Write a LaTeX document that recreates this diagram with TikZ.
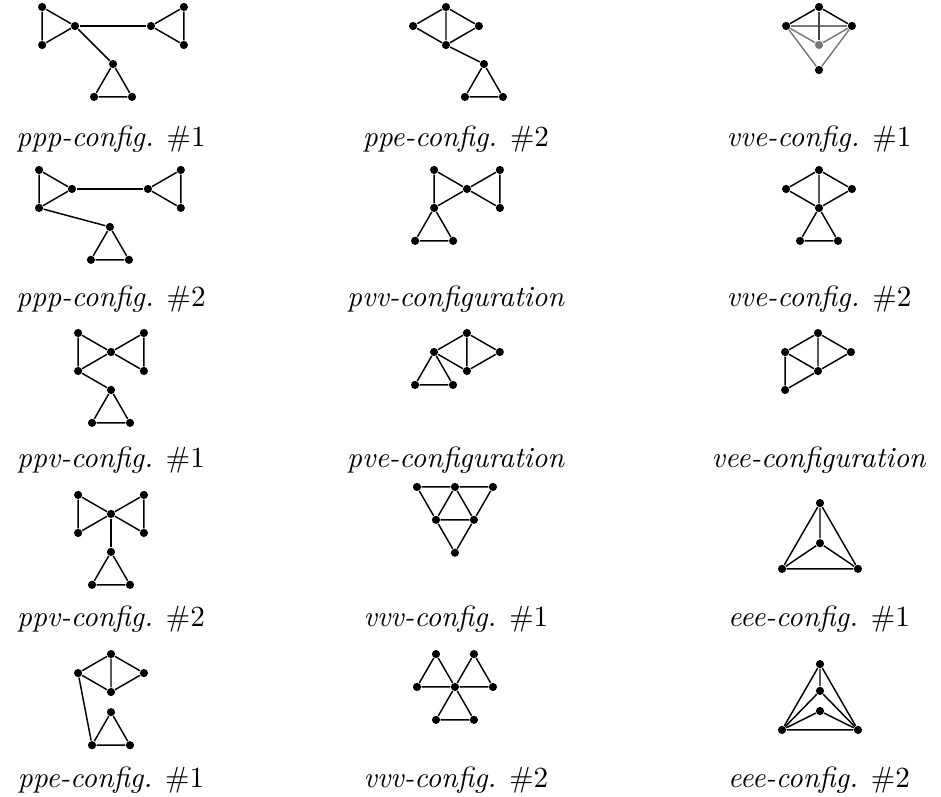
\documentclass[tikz,border=0pt]{standalone}
\usepackage{tikz}
\usepackage{xcolor}
\definecolor{backGray}{RGB}{120, 120, 120}
\definecolor{midGray}{RGB}{70, 70, 70}

\tikzset{
  vtx/.style={circle, fill=black, inner sep=0pt, minimum size=2.8pt},
  vtxBack/.style={vtx, fill=backGray},
  edge/.style={line width=0.5pt},
  edgeBack/.style={edge, draw=backGray},
  caption/.style={anchor=base, font=\normalsize}
}

\begin{document}
\begin{tikzpicture}

  % page frame: 941 x 797 px at 83.1 px per cm
  \useasboundingbox (0,0) rectangle (11.324,-9.591);

  % triangle side of every configuration
  \def\side{0.457}

  % ---------------- column 1 ----------------

  % ppp-config. #1
  \begin{scope}[shift={(0.903,-0.313)}, scale=\side]
    \node[vtx] (pA) at (-0.866, 0.5) {};
    \node[vtx] (pB) at (-0.866,-0.5) {};
    \node[vtx] (pC) at (0,0) {};
    \node[vtx] (pD) at (2,0) {};
    \node[vtx] (pE) at (2.866, 0.5) {};
    \node[vtx] (pF) at (2.866,-0.5) {};
    \node[vtx] (pG) at (1,-1) {};
    \node[vtx] (pH) at (0.5,-1.866) {};
    \node[vtx] (pI) at (1.5,-1.866) {};
    \draw[edge] (pA) -- (pB) -- (pC) -- (pA);
    \draw[edge] (pD) -- (pE) -- (pF) -- (pD);
    \draw[edge] (pG) -- (pH) -- (pI) -- (pG);
    \draw[edge] (pC) -- (pD);
    \draw[edge] (pC) -- (pG);
  \end{scope}
  \node[caption] (capPpp1) at (1.336,-1.769) {\textit{ppp-config.} \#1};

  % ppp-config. #2
  \begin{scope}[shift={(0.866,-2.274)}, scale=\side]
    \node[vtx] (qA) at (-0.866, 0.5) {};
    \node[vtx] (qB) at (-0.866,-0.5) {};
    \node[vtx] (qC) at (0,0) {};
    \node[vtx] (qD) at (2,0) {};
    \node[vtx] (qE) at (2.866, 0.5) {};
    \node[vtx] (qF) at (2.866,-0.5) {};
    \node[vtx] (qG) at (1,-1) {};
    \node[vtx] (qH) at (0.5,-1.866) {};
    \node[vtx] (qI) at (1.5,-1.866) {};
    \draw[edge] (qA) -- (qB) -- (qC) -- (qA);
    \draw[edge] (qD) -- (qE) -- (qF) -- (qD);
    \draw[edge] (qG) -- (qH) -- (qI) -- (qG);
    \draw[edge] (qC) -- (qD);
    \draw[edge] (qB) -- (qG);
  \end{scope}
  \node[caption] (capPpp2) at (1.336,-3.694) {\textit{ppp-config.} \#2};

  % ppv-config. #1
  \begin{scope}[shift={(1.336,-4.236)}, scale=\side]
    \node[vtx] (rP) at (-0.866, 0.5) {};
    \node[vtx] (rQ) at (-0.866,-0.5) {};
    \node[vtx] (rM) at (0,0) {};
    \node[vtx] (rR) at (0.866, 0.5) {};
    \node[vtx] (rS) at (0.866,-0.5) {};
    \node[vtx] (rG) at (0,-1) {};
    \node[vtx] (rH) at (-0.5,-1.866) {};
    \node[vtx] (rI) at (0.5,-1.866) {};
    \draw[edge] (rP) -- (rQ) -- (rM) -- (rP);
    \draw[edge] (rM) -- (rR) -- (rS) -- (rM);
    \draw[edge] (rG) -- (rH) -- (rI) -- (rG);
    \draw[edge] (rQ) -- (rG);
  \end{scope}
  \node[caption] (capPpv1) at (1.336,-5.620) {\textit{ppv-config.} \#1};

  % ppv-config. #2
  \begin{scope}[shift={(1.336,-6.185)}, scale=\side]
    \node[vtx] (sP) at (-0.866, 0.5) {};
    \node[vtx] (sQ) at (-0.866,-0.5) {};
    \node[vtx] (sM) at (0,0) {};
    \node[vtx] (sR) at (0.866, 0.5) {};
    \node[vtx] (sS) at (0.866,-0.5) {};
    \node[vtx] (sG) at (0,-1) {};
    \node[vtx] (sH) at (-0.5,-1.866) {};
    \node[vtx] (sI) at (0.5,-1.866) {};
    \draw[edge] (sP) -- (sQ) -- (sM) -- (sP);
    \draw[edge] (sM) -- (sR) -- (sS) -- (sM);
    \draw[edge] (sG) -- (sH) -- (sI) -- (sG);
    \draw[edge] (sM) -- (sG);
  \end{scope}
  \node[caption] (capPpv2) at (1.336,-7.545) {\textit{ppv-config.} \#2};

  % ppe-config. #1
  \begin{scope}[shift={(1.336,-8.328)}, scale=\side]
    \node[vtx] (tT) at (0,1) {};
    \node[vtx] (tL) at (-0.866,0.5) {};
    \node[vtx] (tR) at (0.866,0.5) {};
    \node[vtx] (tD) at (0,0) {};
    \node[vtx] (tG) at (0,-0.53) {};
    \node[vtx] (tH) at (-0.5,-1.4) {};
    \node[vtx] (tI) at (0.5,-1.4) {};
    \draw[edge] (tT) -- (tL) -- (tD) -- (tR) -- (tT) -- (tD);
    \draw[edge] (tG) -- (tH) -- (tI) -- (tG);
    \draw[edge] (tL) -- (tH);
  \end{scope}
  \node[caption] (capPpe1) at (1.336,-9.471) {\textit{ppe-config.} \#1};

  % ---------------- column 2 ----------------

  % ppe-config. #2
  \begin{scope}[shift={(5.367,-0.542)}, scale=\side]
    \node[vtx] (uT) at (0,1) {};
    \node[vtx] (uL) at (-0.866,0.5) {};
    \node[vtx] (uR) at (0.866,0.5) {};
    \node[vtx] (uD) at (0,0) {};
    \node[vtx] (uE) at (1,-0.5) {};
    \node[vtx] (uH) at (0.5,-1.366) {};
    \node[vtx] (uI) at (1.5,-1.366) {};
    \draw[edge] (uT) -- (uL) -- (uD) -- (uR) -- (uT) -- (uD);
    \draw[edge] (uE) -- (uH) -- (uI) -- (uE);
    \draw[edge] (uD) -- (uE);
  \end{scope}
  \node[caption] (capPpe2) at (5.487,-1.769) {\textit{ppe-config.} \#2};

  % pvv-configuration
  \begin{scope}[shift={(5.620,-2.274)}, scale=\side]
    \node[vtx] (vP) at (-0.866, 0.5) {};
    \node[vtx] (vQ) at (-0.866,-0.5) {};
    \node[vtx] (vM) at (0,0) {};
    \node[vtx] (vR) at (0.866, 0.5) {};
    \node[vtx] (vS) at (0.866,-0.5) {};
    \node[vtx] (vH) at (-1.366,-1.366) {};
    \node[vtx] (vI) at (-0.366,-1.366) {};
    \draw[edge] (vP) -- (vQ) -- (vM) -- (vP);
    \draw[edge] (vM) -- (vR) -- (vS) -- (vM);
    \draw[edge] (vQ) -- (vH) -- (vI) -- (vQ);
  \end{scope}
  \node[caption] (capPvv) at (5.487,-3.694) {\textit{pvv-configuration}};

  % pve-configuration
  \begin{scope}[shift={(5.223,-4.236)}, scale=\side]
    \node[vtx] (wL) at (0,0) {};
    \node[vtx] (wT) at (0.866,0.5) {};
    \node[vtx] (wR) at (1.732,0) {};
    \node[vtx] (wD) at (0.866,-0.5) {};
    \node[vtx] (wH) at (-0.5,-0.866) {};
    \node[vtx] (wI) at (0.5,-0.866) {};
    \draw[edge] (wT) -- (wL) -- (wD) -- (wR) -- (wT) -- (wD);
    \draw[edge] (wL) -- (wH) -- (wI) -- (wL);
  \end{scope}
  \node[caption] (capPve) at (5.487,-5.620) {\textit{pve-configuration}};

  % vvv-config. #1
  \begin{scope}[shift={(5.475,-5.860)}, scale=\side]
    \node[vtx] (xA) at (-1,0) {};
    \node[vtx] (xB) at (0,0) {};
    \node[vtx] (xC) at (1,0) {};
    \node[vtx] (xD) at (-0.5,-0.866) {};
    \node[vtx] (xE) at (0.5,-0.866) {};
    \node[vtx] (xF) at (0,-1.732) {};
    \draw[edge] (xA) -- (xB) -- (xC) -- (xE) -- (xF) -- (xD) -- (xA);
    \draw[edge] (xD) -- (xB) -- (xE) -- (xD);
  \end{scope}
  \node[caption] (capVvv1) at (5.487,-7.545) {\textit{vvv-config.} \#1};

  % vvv-config. #2
  \begin{scope}[shift={(5.475,-8.267)}, scale=\side]
    \node[vtx] (yA) at (-1,0) {};
    \node[vtx] (yB) at (-0.5,0.866) {};
    \node[vtx] (yC) at (0,0) {};
    \node[vtx] (yD) at (1,0) {};
    \node[vtx] (yE) at (0.5,0.866) {};
    \node[vtx] (yF) at (-0.5,-0.866) {};
    \node[vtx] (yG) at (0.5,-0.866) {};
    \draw[edge] (yA) -- (yB) -- (yC) -- (yA);
    \draw[edge] (yC) -- (yD) -- (yE) -- (yC);
    \draw[edge] (yC) -- (yF) -- (yG) -- (yC);
  \end{scope}
  \node[caption] (capVvv2) at (5.487,-9.471) {\textit{vvv-config.} \#2};

  % ---------------- column 3 ----------------

  % vve-config. #1 (back vertex in gray)
  \begin{scope}[shift={(9.856,-0.084)}, scale=\side]
    \node[vtx] (zT) at (0,0) {};
    \node[vtx] (zL) at (-0.866,-0.5) {};
    \node[vtx] (zR) at (0.866,-0.5) {};
    \node[vtxBack] (zC) at (0,-1) {};
    \node[vtx] (zB) at (0,-1.66) {};
    \draw[edgeBack] (zL) -- (zR);
    \draw[edgeBack] (zL) -- (zC) -- (zR);
    \draw[edgeBack] (zL) -- (zB) -- (zR);
    \draw[edge, draw=midGray] (zT) -- (zC);
    \draw[edge] (zL) -- (zT) -- (zR);
  \end{scope}
  \node[caption] (capVve1) at (9.856,-1.769) {\textit{vve-config.} \#1};

  % vve-config. #2
  \begin{scope}[shift={(9.856,-2.503)}, scale=\side]
    \node[vtx] (aT) at (0,1) {};
    \node[vtx] (aL) at (-0.866,0.5) {};
    \node[vtx] (aR) at (0.866,0.5) {};
    \node[vtx] (aD) at (0,0) {};
    \node[vtx] (aH) at (-0.5,-0.866) {};
    \node[vtx] (aI) at (0.5,-0.866) {};
    \draw[edge] (aT) -- (aL) -- (aD) -- (aR) -- (aT) -- (aD);
    \draw[edge] (aD) -- (aH) -- (aI) -- (aD);
  \end{scope}
  \node[caption] (capVve2) at (9.856,-3.694) {\textit{vve-config.} \#2};

  % vee-configuration
  \begin{scope}[shift={(9.844,-4.465)}, scale=\side]
    \node[vtx] (bT) at (0,1) {};
    \node[vtx] (bL) at (-0.866,0.5) {};
    \node[vtx] (bR) at (0.866,0.5) {};
    \node[vtx] (bD) at (0,0) {};
    \node[vtx] (bB) at (-0.866,-0.5) {};
    \draw[edge] (bT) -- (bL) -- (bD) -- (bR) -- (bT) -- (bD);
    \draw[edge] (bL) -- (bB) -- (bD);
  \end{scope}
  \node[caption] (capVee) at (9.856,-5.620) {\textit{vee-configuration}};

  % eee-config. #1
  \begin{scope}[shift={(9.868,-6.582)}, scale=\side]
    \node[vtx] (cT) at (0,1.155) {};
    \node[vtx] (cL) at (-1,-0.577) {};
    \node[vtx] (cR) at (1,-0.577) {};
    \node[vtx] (cC) at (0,0.1) {};
    \draw[edge] (cT) -- (cL) -- (cR) -- (cT) -- (cC);
    \draw[edge] (cL) -- (cC) -- (cR);
  \end{scope}
  \node[caption] (capEee1) at (9.856,-7.545) {\textit{eee-config.} \#1};

  % eee-config. #2
  \begin{scope}[shift={(9.868,-8.520)}, scale=\side]
    \node[vtx] (dT) at (0,1.155) {};
    \node[vtx] (dL) at (-1,-0.577) {};
    \node[vtx] (dR) at (1,-0.577) {};
    \node[vtx] (dU) at (0,0.45) {};
    \node[vtx] (dV) at (0,-0.08) {};
    \draw[edge] (dT) -- (dL) -- (dR) -- (dT) -- (dU);
    \draw[edge] (dL) -- (dU) -- (dR);
    \draw[edge] (dL) -- (dV) -- (dR);
  \end{scope}
  \node[caption] (capEee2) at (9.856,-9.471) {\textit{eee-config.} \#2};

\end{tikzpicture}
\end{document}
